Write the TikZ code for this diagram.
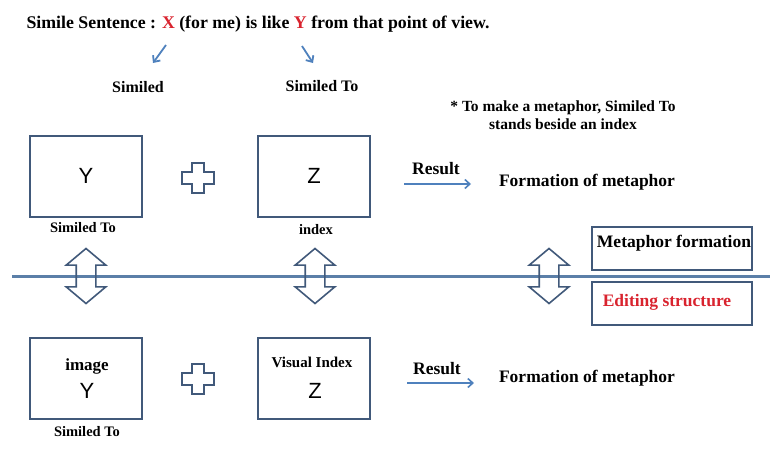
\documentclass[tikz,border=0pt]{standalone}
\usepackage{fontspec}
\setmainfont{Liberation Serif}
\newfontfamily\sansf{Liberation Sans}
\usetikzlibrary{shapes.arrows,arrows.meta}
\definecolor{boxc}{HTML}{41597A}
\definecolor{arrc}{HTML}{4F81BD}
\definecolor{linec}{HTML}{5B7FA8}
\definecolor{redc}{HTML}{D9232E}
\begin{document}
\begin{tikzpicture}[x=1pt,y=-1pt,
  lbl/.style={font=\bfseries\fontsize{16}{18}\selectfont, inner sep=0pt},
  small/.style={font=\bfseries\fontsize{14.5}{16}\selectfont, inner sep=0pt},
  note/.style={font=\bfseries\fontsize{15.5}{17}\selectfont, inner sep=0pt, align=center},
  big/.style={font=\bfseries\fontsize{17.5}{20}\selectfont, inner sep=0pt},
  letter/.style={font=\sansf\fontsize{22}{24}\selectfont, inner sep=0pt},
  framebox/.style={draw=boxc, line width=2pt, minimum width=112pt, minimum height=81pt, inner sep=0pt},
  sidebox/.style={draw=boxc, line width=2pt, minimum width=160pt, minimum height=43pt, inner sep=0pt},
  updown/.style={double arrow, draw=boxc, line width=1.6pt, rotate=90, minimum height=55pt,
     inner sep=9pt, double arrow head extend=10pt, double arrow tip angle=100},
  resarrow/.style={draw=arrc, line width=1.6pt, -{Straight Barb[length=5pt,width=9pt]}},
  smallarrow/.style={draw=arrc, line width=1.8pt, -{Straight Barb[length=5pt,width=9pt]}},
  crossc/.style={draw=boxc, line width=1.6pt, line join=miter}
]
\useasboundingbox (0,0) rectangle (778,458);

% title
\node[lbl, font=\bfseries\fontsize{17.8}{19}\selectfont] (title) at (258,24)
  {Simile Sentence : \textcolor{redc}{X} (for me) is like \textcolor{redc}{Y} from that point of view.};
\coordinate (xa) at (166,45);
\coordinate (xb) at (153,63);
\coordinate (ya) at (302,46);
\coordinate (yb) at (313,63);
\draw[smallarrow] (xa) -- (xb);
\draw[smallarrow] (ya) -- (yb);
\node[lbl] (simd) at (138,87) {Similed};
\node[lbl] (simto) at (322,86) {Similed To};

\node[note] (note) at (563,115) {* To make a metaphor, Similed To\\[1pt]stands beside an index};

% top row
\node[framebox] (boxY) at (86,176) {};
\node[letter] at (boxY.center) {Y};
\node[framebox] (boxZ) at (314,176) {};
\node[letter] at (boxZ.center) {Z};
\node[small] (lblY) at (83,228) {Similed To};
\node[small] (lblZ) at (316,230) {index};
\draw[crossc] (192,163) -- (204,163) -- (204,172) -- (214,172) -- (214,184) -- (204,184)
  -- (204,193) -- (192,193) -- (192,184) -- (182,184) -- (182,172) -- (192,172) -- cycle;
\coordinate (r1a) at (404,184);
\coordinate (r1b) at (471,184);
\draw[resarrow] (r1a) -- (r1b);
\node[big] (res1) at (436,169) {Result};
\node[big] (form1) at (587,182) {Formation of metaphor};

% middle line
\coordinate (la) at (12,276);
\coordinate (lb) at (770,276);
\draw[linec, line width=3pt] (la) -- (lb);
\node[updown] (ud1) at (86,276) {};
\node[updown] (ud2) at (315,276) {};
\node[updown] (ud3) at (549,276) {};
\node[sidebox] (mf) at (672,248) {};
\node[big] at (674,243) {Metaphor formation};
\node[sidebox] (es) at (672,303) {};
\node[big, text=redc] at (667,302) {Editing structure};

% bottom row
\node[framebox] (boxY2) at (86,378) {};
\node[lbl, font=\bfseries\fontsize{17}{19}\selectfont] at (87,366) {image};
\node[letter] at (87,391) {Y};
\node[framebox] (boxZ2) at (314,378) {};
\node[small, font=\bfseries\fontsize{15}{17}\selectfont] at (312,362) {Visual Index};
\node[letter] at (315,391) {Z};
\node[small] (lblY2) at (87,432) {Similed To};
\draw[crossc] (192,364) -- (204,364) -- (204,373) -- (214,373) -- (214,385) -- (204,385)
  -- (204,394) -- (192,394) -- (192,385) -- (182,385) -- (182,373) -- (192,373) -- cycle;
\coordinate (r2a) at (407,383);
\coordinate (r2b) at (474,383);
\draw[resarrow] (r2a) -- (r2b);
\node[big] (res2) at (437,369) {Result};
\node[big] (form2) at (587,378) {Formation of metaphor};
\end{tikzpicture}
\end{document}
